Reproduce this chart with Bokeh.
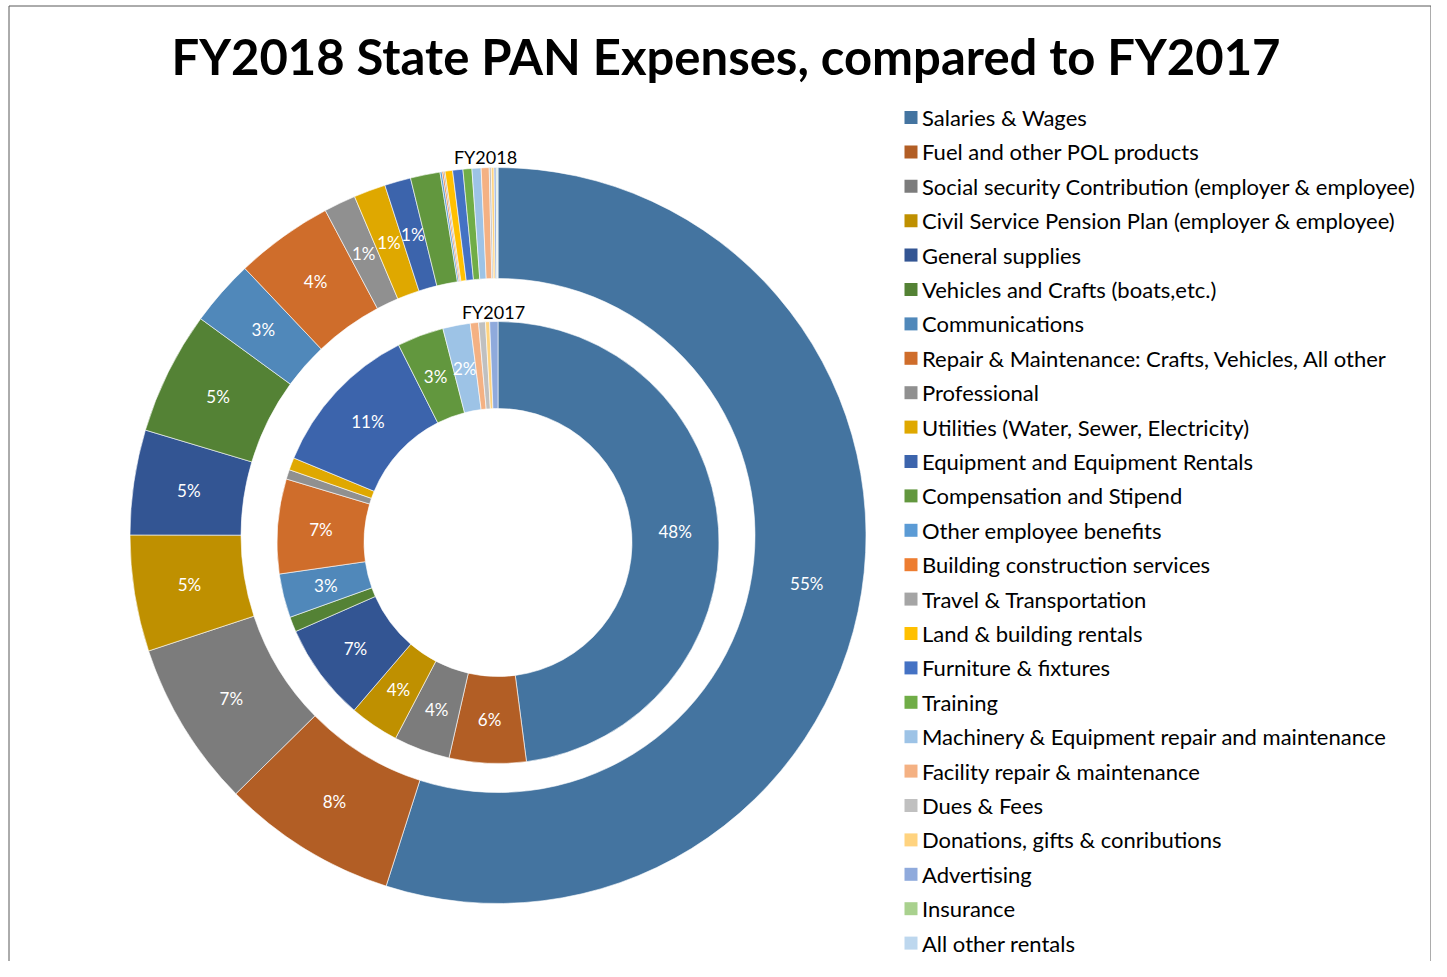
import numpy as np
from bokeh.plotting import figure
from bokeh.models import Range1d, ColumnDataSource
from bokeh.core.properties import value
from bokeh.embed import file_html
from bokeh.resources import INLINE

title = "FY2018 State PAN Expenses, compared to FY2017"
series_names = ["FY2018", "FY2017"]

categories = [
    "Salaries & Wages",
    "Fuel and other POL products",
    "Social security Contribution (employer & employee)",
    "Civil Service Pension Plan (employer & employee)",
    "General supplies",
    "Vehicles and Crafts (boats,etc.)",
    "Communications",
    "Repair & Maintenance: Crafts, Vehicles, All other",
    "Professional",
    "Utilities (Water, Sewer, Electricity)",
    "Equipment and Equipment Rentals",
    "Compensation and Stipend",
    "Other employee benefits",
    "Building construction services",
    "Travel & Transportation",
    "Land & building rentals",
    "Furniture & fixtures",
    "Training",
    "Machinery & Equipment repair and maintenance",
    "Facility repair & maintenance",
    "Dues & Fees",
    "Donations, gifts & conributions",
    "Advertising",
    "Insurance",
    "All other rentals",
]

# percent shares
fy2018 = [54.9, 7.7, 7.3, 5.1, 4.6, 5.4, 2.9, 4.3, 1.4, 1.4, 1.15, 1.3,
          0.09, 0.07, 0.06, 0.33, 0.45, 0.39, 0.40, 0.35, 0.09, 0.12, 0.09, 0.04, 0.04]
fy2017 = [47.8, 5.6, 4.1, 3.6, 7.1, 1.1, 3.2, 6.9, 0.7, 0.9, 11.3, 3.4,
          0.0, 0.0, 0.0, 0.0, 0.0, 0.0, 2.0, 0.6, 0.5, 0.3, 0.6, 0.0, 0.0]

# which slices carry a data label
fy2018_labeled = [1, 1, 1, 1, 1, 1, 1, 1, 1, 1, 1, 0, 0, 0, 0, 0, 0, 0, 0, 0, 0, 0, 0, 0, 0]
fy2017_labeled = [1, 1, 1, 1, 1, 0, 1, 1, 0, 0, 1, 1, 0, 0, 0, 0, 0, 0, 1, 0, 0, 0, 0, 0, 0]

colors = [
    "#4474A0", "#B25E25", "#7C7C7C", "#BF9000", "#335593", "#548235",
    "#5088BA", "#CF6D2B", "#909090", "#DFA800", "#3C64AC", "#62973E",
    "#5B9BD5", "#ED7D31", "#A5A5A5", "#FFC000", "#4472C4", "#70AD47",
    "#9DC3E6", "#F4B183", "#C0C0C0", "#FFD37F", "#8FAADC", "#A9D18E",
    "#BDD7EE",
]

W, H = 1431, 961
FONT = "Lato"


def px(X):
    return X


def py(Y):
    return H - Y


p = figure(width=W, height=H, x_range=Range1d(0, W), y_range=Range1d(0, H),
           output_backend="svg", toolbar_location=None, min_border=0)
p.axis.visible = False
p.grid.visible = False
p.outline_line_color = None
p.background_fill_color = "white"
p.border_fill_color = "white"

# chart area border (bottom edge lies outside the window in the reference)
p.line(x=[px(8.5), px(8.5), W - 0.5, W - 0.5], y=[0, py(5.5), py(5.5), 0],
       line_color="#595959", line_width=1)


def ring(vals, labeled, cx, cy, r_in, r_out):
    v = np.array(vals, dtype=float)
    frac = v / v.sum()
    cum = np.concatenate([[0.0], np.cumsum(frac)])
    start = np.pi / 2 - cum[1:] * 2 * np.pi
    end = np.pi / 2 - cum[:-1] * 2 * np.pi
    keep = v > 0
    src = ColumnDataSource(dict(
        start=start[keep], end=end[keep],
        color=[c for c, k in zip(colors, keep) if k],
    ))
    p.annular_wedge(x=cx, y=cy, inner_radius=r_in, outer_radius=r_out,
                    start_angle="start", end_angle="end", direction="anticlock",
                    fill_color="color", line_color="white", line_width=0.6,
                    source=src)
    mid = np.pi / 2 - (cum[:-1] + cum[1:]) / 2 * 2 * np.pi
    rm = (r_in + r_out) / 2
    lab = np.array(labeled, dtype=bool) & keep
    lsrc = ColumnDataSource(dict(
        x=(cx + rm * np.cos(mid))[lab],
        y=(cy + rm * np.sin(mid))[lab],
        t=["%d%%" % int(np.floor(f * 100 + 0.5)) for f in frac[lab]],
    ))
    p.text(x="x", y="y", text="t", source=lsrc, text_align="center",
           text_baseline="middle", text_color="white",
           text_font=value(FONT), text_font_size="17px")


# outer ring FY2018, inner ring FY2017
ring(fy2018, fy2018_labeled, px(497.5), py(535), 257, 368)
ring(fy2017, fy2017_labeled, px(497.5), py(542), 134, 221)

p.text(x=[px(485), px(493)], y=[py(156), py(311)], text=series_names,
       text_align="center", text_baseline="middle", text_color="#000000",
       text_font=value(FONT), text_font_size="18px")

# title
p.text(x=[px(725.5)], y=[py(55)], text=[title], text_align="center",
       text_baseline="middle", text_color="#000000", text_font=value(FONT),
       text_font_size="49px", text_font_style="bold")

# legend (slightly tighter rows so the last entry stays inside the page)
n = len(categories)
ly = [py(117 + i * 34.4) for i in range(n)]
p.scatter(x=[px(910.5)] * n, y=ly, marker="square", size=13,
          fill_color=colors, line_color=None)
p.text(x=[px(921.5)] * n, y=ly, text=categories, text_align="left",
       text_baseline="middle", text_color="#000000", text_font=value(FONT),
       text_font_size="22px")

open("out.html", "w").write(file_html(p, INLINE))
